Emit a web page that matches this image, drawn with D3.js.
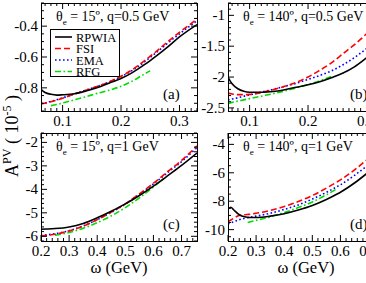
<!DOCTYPE html>
<html>
<head>
    <style>
        body { margin: 0; background: #fff; }
        svg text { font-family: "Liberation Serif", "DejaVu Serif", serif; fill: #000; }
        .frame { fill: none; stroke: #000; stroke-width: 1; }
        .tick { stroke: #000; stroke-width: 1; }
        .curve { fill: none; stroke-width: 1.6; }
    </style>
    <script src="https://d3js.org/d3.v7.min.js"></script>
</head>
<body>
    <svg width="366" height="283"></svg>
    <script>

        // series names and styles, same for all four panels
        var seriesNames = ["RPWIA", "FSI", "EMA", "RFG"];
        var seriesColors = ["#000000", "#ff0000", "#0000ff", "#00dd00"];
        var seriesDash = [null, "6,3", "1.6,2.4", "6,2.5,1.6,2.5"];

        // (a) theta_e = 15, q = 0.5 GeV
        var omegaA = [0.063, 0.07, 0.08, 0.09, 0.1, 0.12, 0.14, 0.16, 0.18, 0.2, 0.22, 0.24, 0.25, 0.26, 0.28, 0.3, 0.33];
        var rpwiaA = [-0.81, -0.83, -0.842, -0.847, -0.845, -0.838, -0.82, -0.797, -0.768, -0.74, -0.70, -0.65, -0.623, -0.595, -0.535, -0.47, -0.39];
        var fsiA   = [-0.905, -0.90, -0.89, -0.88, -0.867, -0.84, -0.815, -0.79, -0.76, -0.725, -0.68, -0.625, -0.595, -0.565, -0.50, -0.44, -0.355];
        var emaA   = [-0.90, -0.897, -0.887, -0.877, -0.865, -0.84, -0.815, -0.79, -0.762, -0.728, -0.685, -0.632, -0.602, -0.572, -0.51, -0.45, -0.365];
        var rfgA   = [null, null, -0.915, -0.908, -0.898, -0.878, -0.857, -0.835, -0.815, -0.79, -0.755, -0.71, -0.69, null, null, null, null];

        // (b) theta_e = 140, q = 0.5 GeV
        var omegaB = [0.063, 0.07, 0.08, 0.09, 0.1, 0.12, 0.14, 0.16, 0.18, 0.2, 0.22, 0.24, 0.26, 0.28, 0.3, 0.33];
        var rpwiaB = [-2.0, -2.11, -2.19, -2.23, -2.245, -2.245, -2.235, -2.205, -2.165, -2.125, -2.075, -2.01, -1.935, -1.83, -1.69, -1.47];
        var fsiB   = [-2.26, -2.275, -2.285, -2.285, -2.28, -2.25, -2.205, -2.15, -2.085, -2.0, -1.89, -1.77, -1.62, -1.47, -1.3, -1.05];
        var emaB   = [-2.37, -2.355, -2.335, -2.31, -2.29, -2.245, -2.2, -2.15, -2.1, -2.04, -1.975, -1.9, -1.8, -1.68, -1.54, -1.32];
        var rfgB   = [-2.43, -2.41, -2.39, -2.37, -2.35, -2.31, -2.27, -2.225, -2.175, -2.12, -2.06, -1.99, null, null, null, null];

        // (c) theta_e = 15, q = 1 GeV
        var omegaC = [0.2, 0.22, 0.25, 0.3, 0.35, 0.4, 0.45, 0.5, 0.55, 0.6, 0.64, 0.65, 0.7, 0.755];
        var rpwiaC = [-5.7, -5.69, -5.67, -5.6, -5.45, -5.21, -4.93, -4.62, -4.26, -3.86, -3.52, -3.43, -2.98, -2.45];
        var fsiC   = [-5.99, -5.96, -5.91, -5.77, -5.57, -5.29, -4.97, -4.62, -4.19, -3.74, -3.35, -3.25, -2.77, -2.15];
        var emaC   = [-5.97, -5.94, -5.89, -5.76, -5.56, -5.29, -4.98, -4.63, -4.21, -3.77, -3.39, -3.29, -2.82, -2.22];
        var rfgC   = [null, null, -5.96, -5.84, -5.66, -5.42, -5.13, -4.78, -4.36, -3.9, -3.5, null, null, null];

        // (d) theta_e = 140, q = 1 GeV
        var omegaD = [0.2, 0.21, 0.22, 0.24, 0.26, 0.27, 0.28, 0.3, 0.35, 0.4, 0.45, 0.5, 0.55, 0.59, 0.6, 0.65, 0.7, 0.755];
        var rpwiaD = [-8.55, -8.42, -8.6, -8.95, -9.1, -9.13, -9.15, -9.15, -9.05, -8.88, -8.62, -8.3, -7.88, -7.48, -7.37, -6.72, -5.95, -5.05];
        var fsiD   = [-9.45, -9.32, -9.2, -9.0, -8.95, -8.93, -8.91, -8.85, -8.65, -8.38, -8.02, -7.6, -7.08, -6.62, -6.5, -5.8, -4.98, -4.0];
        var emaD   = [-9.6, -9.52, -9.45, -9.3, -9.2, -9.16, -9.12, -9.05, -8.85, -8.58, -8.26, -7.85, -7.38, -6.95, -6.84, -6.18, -5.42, -4.5];
        var rfgD   = [null, null, null, null, null, -9.5, -9.45, -9.35, -9.1, -8.8, -8.45, -8.05, -7.55, -7.1, null, null, null, null];

        // axis ranges and tick values
        var xDomainLow = [0.063, 0.33], xDomainHigh = [0.2, 0.755];
        var xTicksLow = [0.1, 0.2, 0.3], xTicksHigh = [0.2, 0.3, 0.4, 0.5, 0.6, 0.7];
        var yDomains = [[-0.95, -0.25], [-2.55, -0.8], [-6.2, -1.6], [-10.8, -3.2]];
        var yTicks = [[-0.8, -0.6, -0.4], [-2.5, -2, -1.5, -1], [-6, -5, -4, -3, -2], [-10, -8, -6, -4]];
        var yTickLabels = [["-0.8", "-0.6", "-0.4"], ["-2.5", "-2", "-1.5", "-1"], ["-6", "-5", "-4", "-3", "-2"], ["-10", "-8", "-6", "-4"]];
        var panelLetters = ["(a)", "(b)", "(c)", "(d)"];
        var panelAngles = ["15", "140", "15", "140"];
        var panelQ = ["0.5", "0.5", "1", "1"];

        var panels = [
            { left: 41,  top: 3,   omega: omegaA, ys: [rpwiaA, fsiA, emaA, rfgA], xd: xDomainLow,  xt: xTicksLow,  xminor: 0.01, yminor: 0.05 },
            { left: 228, top: 3,   omega: omegaB, ys: [rpwiaB, fsiB, emaB, rfgB], xd: xDomainLow,  xt: xTicksLow,  xminor: 0.01, yminor: 0.1 },
            { left: 41,  top: 133, omega: omegaC, ys: [rpwiaC, fsiC, emaC, rfgC], xd: xDomainHigh, xt: xTicksHigh, xminor: 0.02, yminor: 0.2 },
            { left: 228, top: 133, omega: omegaD, ys: [rpwiaD, fsiD, emaD, rfgD], xd: xDomainHigh, xt: xTicksHigh, xminor: 0.02, yminor: 0.5 }
        ];
        var pw = 156, ph = 108;

        var svg = d3.select("svg");
        var defs = svg.append("defs");

        // minor tick values between domain ends
        function minorTicks(domain, step) {
            var out = [];
            var start = Math.ceil(domain[0] / step - 1e-6);
            for (var k = start; k * step <= domain[1] + 1e-9; k++) out.push(+(k * step).toFixed(4));
            return out;
        }

        panels.forEach(function(p, i) {
            var x = d3.scaleLinear().domain(p.xd).range([0, pw]);
            var y = d3.scaleLinear().domain(yDomains[i]).range([ph, 0]);

            var g = svg.append("g").attr("transform", "translate(" + p.left + "," + p.top + ")");

            defs.append("clipPath").attr("id", "clip" + i)
                .append("rect").attr("width", pw).attr("height", ph);

            // curves
            var line = d3.line()
                .defined(function(d) { return d[1] != null; })
                .x(function(d) { return x(d[0]); })
                .y(function(d) { return y(d[1]); })
                .curve(d3.curveMonotoneX);

            var cg = g.append("g").attr("clip-path", "url(#clip" + i + ")");
            // draw RFG first so black ends on top
            [3, 2, 1, 0].forEach(function(s) {
                var pts = p.omega.map(function(w, j) { return [w, p.ys[s][j]]; });
                cg.append("path")
                  .attr("class", "curve")
                  .attr("d", line(pts))
                  .attr("stroke", seriesColors[s])
                  .attr("stroke-dasharray", seriesDash[s]);
            });

            // ticks on all four sides, pointing in
            var xmin = minorTicks(p.xd, p.xminor);
            var ymin = minorTicks(yDomains[i], p.yminor);
            xmin.forEach(function(v) {
                var major = p.xt.some(function(t) { return Math.abs(t - v) < 1e-6; });
                var len = major ? 6 : 3;
                g.append("line").attr("class", "tick").attr("x1", x(v)).attr("x2", x(v)).attr("y1", ph).attr("y2", ph - len);
                g.append("line").attr("class", "tick").attr("x1", x(v)).attr("x2", x(v)).attr("y1", 0).attr("y2", len);
            });
            ymin.forEach(function(v) {
                var major = yTicks[i].some(function(t) { return Math.abs(t - v) < 1e-6; });
                var len = major ? 6 : 3;
                g.append("line").attr("class", "tick").attr("y1", y(v)).attr("y2", y(v)).attr("x1", 0).attr("x2", len);
                g.append("line").attr("class", "tick").attr("y1", y(v)).attr("y2", y(v)).attr("x1", pw).attr("x2", pw - len);
            });

            g.append("rect").attr("class", "frame").attr("x", 0.5).attr("y", 0.5).attr("width", pw).attr("height", ph);

            // tick labels
            g.selectAll(".xl").data(p.xt).enter().append("text")
                .attr("x", function(d) { return x(d); })
                .attr("y", ph + 15)
                .attr("text-anchor", "middle")
                .style("font-size", "15px")
                .text(function(d) { return d3.format(".1f")(d); });

            g.selectAll(".yl").data(yTicks[i]).enter().append("text")
                .attr("x", -3)
                .attr("y", function(d) { return y(d) + 5; })
                .attr("text-anchor", "end")
                .style("font-size", "15px")
                .text(function(d, k) { return yTickLabels[i][k]; });

            // panel title: theta_e = .., q = ..
            var t = g.append("text").attr("x", 15).attr("y", 18).style("font-size", "14px");
            t.append("tspan").text("\u03b8");
            t.append("tspan").attr("dy", 4).style("font-size", "9px").text("e");
            t.append("tspan").attr("dy", -4).text(" = " + panelAngles[i] + "\u00ba, q=" + panelQ[i] + " GeV");

            g.append("text").attr("x", 122).attr("y", 96).style("font-size", "15px").text(panelLetters[i]);

            if (i === 0) {
                // legend box
                var lg = g.append("g").attr("transform", "translate(9,26)");
                lg.append("rect").attr("x", 0.5).attr("y", 0.5).attr("width", 69).attr("height", 47)
                  .attr("fill", "#fff").attr("stroke", "#000");
                seriesNames.forEach(function(name, s) {
                    var yy = 8 + s * 11.5;
                    lg.append("line").attr("x1", 5).attr("x2", 22).attr("y1", yy).attr("y2", yy)
                      .attr("stroke", seriesColors[s]).attr("stroke-width", 1.6)
                      .attr("stroke-dasharray", seriesDash[s]);
                    lg.append("text").attr("x", 26).attr("y", yy + 4.5).style("font-size", "12.5px").text(name);
                });
            }
        });

        // axis titles
        var yl = svg.append("text")
            .attr("transform", "translate(18,136) rotate(-90)")
            .attr("text-anchor", "middle")
            .style("font-size", "18px");
        yl.append("tspan").text("A");
        yl.append("tspan").attr("dy", -7).style("font-size", "12px").text("PV");
        yl.append("tspan").attr("dy", 7).text(" ( 10");
        yl.append("tspan").attr("dy", -7).style("font-size", "12px").text("-5");
        yl.append("tspan").attr("dy", 7).text(" )");

        svg.append("text").attr("x", 41 + pw / 2).attr("y", 273).attr("text-anchor", "middle")
           .style("font-size", "16.5px").text("\u03c9 (GeV)");
        svg.append("text").attr("x", 228 + pw / 2).attr("y", 273).attr("text-anchor", "middle")
           .style("font-size", "16.5px").text("\u03c9 (GeV)");

    </script>
</body>
</html>
